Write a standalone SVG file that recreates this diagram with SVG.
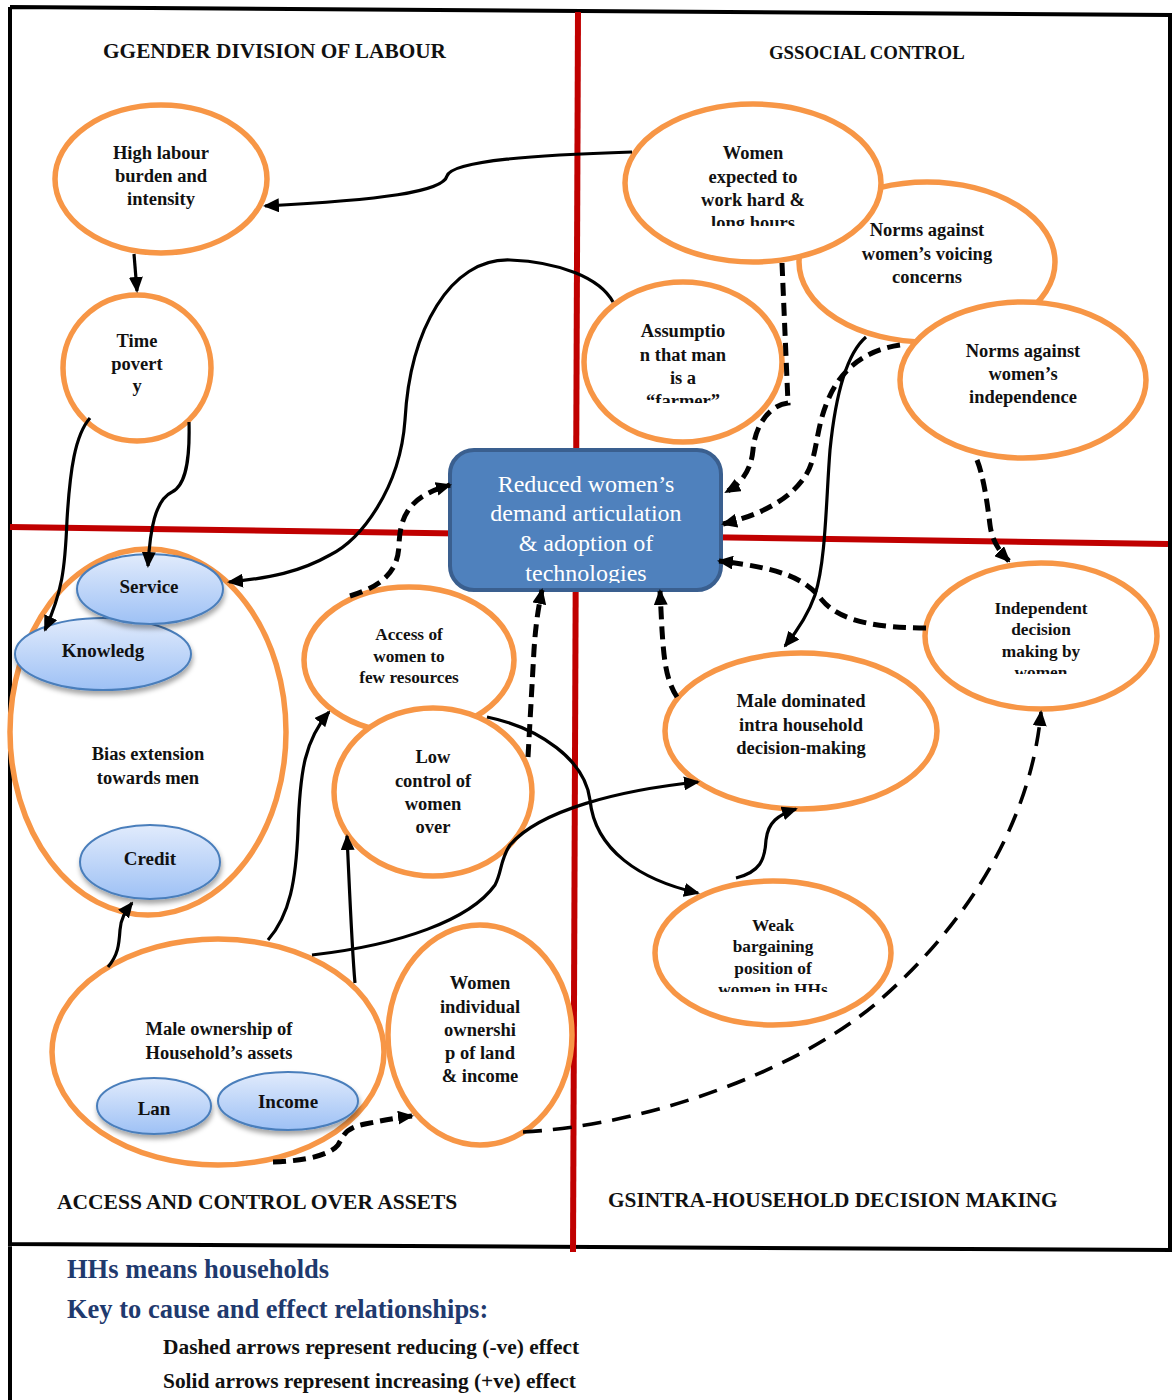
<svg xmlns="http://www.w3.org/2000/svg" width="1175" height="1400" viewBox="0 0 1175 1400">
<style>
.node{fill:#fff;stroke:#F79646;stroke-width:5.5}
.sub{fill:url(#blueG);stroke:#4A7EBB;stroke-width:2;filter:url(#shd)}
.t{font-family:"Liberation Serif","Times New Roman",serif;font-weight:bold;fill:#111;text-anchor:middle}
.s18{font-size:18.5px}
.s17{font-size:17.3px}
.s19{font-size:19px}
.title{font-family:"Liberation Serif","Times New Roman",serif;font-weight:bold;fill:#111}
.leg{font-family:"Liberation Serif","Times New Roman",serif;font-weight:bold}
.solid{fill:none;stroke:#000;stroke-width:3.2;marker-end:url(#ah)}
.dash{fill:none;stroke:#000;stroke-width:5;stroke-dasharray:13 7;marker-end:url(#ah)}
.ldash{fill:none;stroke:#000;stroke-width:3.6;stroke-dasharray:19 11;marker-end:url(#ah)}
.red{stroke:#C00000;stroke-width:6;fill:none}
.frame{stroke:#000;stroke-width:4;fill:none}
</style>
<defs>
<linearGradient id="blueG" x1="0" y1="0" x2="0" y2="1">
<stop offset="0" stop-color="#E1EBFC"/>
<stop offset="1" stop-color="#9EC1F5"/>
</linearGradient>
<filter id="shd" x="-20%" y="-20%" width="140%" height="160%">
<feDropShadow dx="1" dy="4" stdDeviation="2.5" flood-color="#000" flood-opacity="0.35"/>
</filter>
<marker id="ah" markerUnits="userSpaceOnUse" markerWidth="16" markerHeight="14" refX="14" refY="7" orient="auto">
<path d="M0,0 L16,7 L0,14 z" fill="#000"/>
</marker>
<clipPath id="cWE"><rect x="600" y="100" width="300" height="126"/></clipPath>
<clipPath id="cAS"><rect x="580" y="280" width="220" height="123"/></clipPath>
<clipPath id="cBX"><rect x="440" y="440" width="300" height="143"/></clipPath>
<clipPath id="cID"><rect x="920" y="560" width="240" height="114"/></clipPath>
<clipPath id="cWB"><rect x="650" y="880" width="250" height="112"/></clipPath>
</defs>

<g id="frame">
<path class="frame" d="M10,7 L1170,15 L1170,1250 M10,7 L10,1400 M8,1244 L1172,1250"/>
</g>
<g id="quadrant-lines">
<line class="red" x1="578" y1="12" x2="573" y2="1252"/>
<line class="red" x1="10" y1="527" x2="1168" y2="544"/>
</g>

<g id="titles">
<text class="title" x="103" y="58" font-size="21.3px">GGENDER DIVISION OF LABOUR</text>
<text class="title" x="769" y="59" font-size="18.8px">GSSOCIAL CONTROL</text>
<text class="title" x="57" y="1209" font-size="21.5px">ACCESS AND CONTROL OVER ASSETS</text>
<text class="title" x="608" y="1207" font-size="21.3px">GSINTRA-HOUSEHOLD DECISION MAKING</text>
</g>

<g id="node-high-labour">
<ellipse class="node" cx="161" cy="179" rx="106" ry="74"/>
<text class="t s18" x="161" y="159">High labour</text>
<text class="t s18" x="161" y="182">burden and</text>
<text class="t s18" x="161" y="205">intensity</text>
</g>
<g id="node-time-poverty">
<ellipse class="node" cx="137" cy="368" rx="74" ry="73"/>
<text class="t s18" x="137" y="347">Time</text>
<text class="t s18" x="137" y="370">povert</text>
<text class="t s18" x="137" y="392">y</text>
</g>
<g id="node-bias-extension">
<ellipse class="node" cx="148" cy="732" rx="138" ry="183"/>
<text class="t s18" x="148" y="760">Bias extension</text>
<text class="t s18" x="148" y="784">towards men</text>
<ellipse class="sub" cx="103" cy="654" rx="88" ry="36"/>
<text class="t s19" x="103" y="657">Knowledg</text>
<ellipse class="sub" cx="150" cy="589" rx="73" ry="35"/>
<text class="t s19" x="149" y="593">Service</text>
<ellipse class="sub" cx="150" cy="862" rx="70" ry="37"/>
<text class="t s19" x="150" y="865">Credit</text>
</g>
<g id="node-norms-voicing">
<ellipse class="node" cx="927" cy="262" rx="128" ry="80"/>
<text class="t s18" x="927" y="236">Norms against</text>
<text class="t s18" x="927" y="260">women’s voicing</text>
<text class="t s18" x="927" y="283">concerns</text>
</g>
<g id="node-women-expected">
<ellipse class="node" cx="753" cy="183" rx="128" ry="79"/>
<text class="t s18" x="753" y="159">Women</text>
<text class="t s18" x="753" y="183">expected to</text>
<text class="t s18" x="753" y="206">work hard &amp;</text>
<text class="t s18" x="753" y="229" clip-path="url(#cWE)">long hours</text>
</g>
<g id="node-assumption">
<ellipse class="node" cx="683" cy="362" rx="99" ry="80"/>
<text class="t s18" x="683" y="337">Assumptio</text>
<text class="t s18" x="683" y="361">n that man</text>
<text class="t s18" x="683" y="384">is a</text>
<text class="t s18" x="683" y="407" clip-path="url(#cAS)">“farmer”</text>
</g>
<g id="node-norms-independence">
<ellipse class="node" cx="1023" cy="380" rx="123" ry="78"/>
<text class="t s18" x="1023" y="357">Norms against</text>
<text class="t s18" x="1023" y="380">women’s</text>
<text class="t s18" x="1023" y="403">independence</text>
</g>
<g id="node-reduced-demand">
<rect x="450" y="450" width="271" height="140" rx="24" fill="#4F81BD" stroke="#3A5F8F" stroke-width="4"/>
<g font-family="'Liberation Serif','Times New Roman',serif" font-size="24px" fill="#fff" text-anchor="middle">
<text x="586" y="492">Reduced women’s</text>
<text x="586" y="521">demand articulation</text>
<text x="586" y="551">&amp; adoption of</text>
<text x="586" y="581" clip-path="url(#cBX)">technologies</text>
</g>
</g>
<g id="node-access-women">
<ellipse class="node" cx="409" cy="660" rx="105" ry="73"/>
<text class="t s17" x="409" y="640">Access of</text>
<text class="t s17" x="409" y="662">women to</text>
<text class="t s17" x="409" y="683">few resources</text>
</g>
<g id="node-low-control">
<ellipse class="node" cx="433" cy="792" rx="99" ry="84"/>
<text class="t s18" x="433" y="763">Low</text>
<text class="t s18" x="433" y="787">control of</text>
<text class="t s18" x="433" y="810">women</text>
<text class="t s18" x="433" y="833">over</text>
</g>
<g id="node-male-dominated">
<ellipse class="node" cx="801" cy="731" rx="136" ry="78"/>
<text class="t s18" x="801" y="707">Male dominated</text>
<text class="t s18" x="801" y="731">intra household</text>
<text class="t s18" x="801" y="754">decision-making</text>
</g>
<g id="node-independent-decision">
<ellipse class="node" cx="1041" cy="636" rx="116" ry="73"/>
<text class="t s17" x="1041" y="614">Independent</text>
<text class="t s17" x="1041" y="635">decision</text>
<text class="t s17" x="1041" y="657">making by</text>
<text class="t s17" x="1041" y="678" clip-path="url(#cID)">women</text>
</g>
<g id="node-weak-bargaining">
<ellipse class="node" cx="773" cy="953" rx="118" ry="72"/>
<text class="t s17" x="773" y="931">Weak</text>
<text class="t s17" x="773" y="952">bargaining</text>
<text class="t s17" x="773" y="974">position of</text>
<text class="t s17" x="773" y="995" clip-path="url(#cWB)">women in HHs</text>
</g>
<g id="node-male-ownership">
<ellipse class="node" cx="218" cy="1052" rx="166" ry="113"/>
<text class="t s18" x="219" y="1035">Male ownership of</text>
<text class="t s18" x="219" y="1059">Household’s assets</text>
<ellipse class="sub" cx="154" cy="1106" rx="57" ry="28"/>
<text class="t s19" x="154" y="1115">Lan</text>
<ellipse class="sub" cx="288" cy="1101" rx="70" ry="29"/>
<text class="t s19" x="288" y="1108">Income</text>
</g>
<g id="node-women-individual">
<ellipse class="node" cx="480" cy="1035" rx="92" ry="110"/>
<text class="t s18" x="480" y="989">Women</text>
<text class="t s18" x="480" y="1013">individual</text>
<text class="t s18" x="480" y="1036">ownershi</text>
<text class="t s18" x="480" y="1059">p of land</text>
<text class="t s18" x="480" y="1082">&amp; income</text>
</g>

<g id="connectors">
<path class="solid" d="M632,152 C540,155 452,160 447,176 C443,192 380,200 265,206"/>
<path class="solid" d="M134,254 L137,291"/>
<path class="solid" d="M90,418 C75,435 70,470 67,520 C65,570 62,592 45,630"/>
<path class="solid" d="M189,422 C190,460 186,485 172,492 C155,500 150,530 148,566"/>
<path class="solid" d="M613,302 C600,278 560,262 510,260 C450,258 410,330 405,420 C400,490 360,540 330,555 C300,572 270,578 229,582"/>
<path class="solid" d="M108,967 C118,955 119,945 120,930 C121,918 125,912 132,903"/>
<path class="solid" d="M268,940 C290,915 296,880 298,830 C300,770 305,740 329,712"/>
<path class="solid" d="M355,983 C352,950 350,900 347,836"/>
<path class="solid" d="M312,955 C400,945 470,920 495,885 C502,872 500,860 510,845 C540,810 620,790 698,782"/>
<path class="solid" d="M487,717 C540,728 585,760 590,800 C595,850 640,880 698,893"/>
<path class="solid" d="M736,878 C760,872 765,860 766,840 C768,822 778,815 796,809"/>
<path class="solid" d="M866,337 C845,355 835,400 830,450 C826,500 826,560 815,595 C808,615 798,630 785,646"/>
<path class="dash" d="M782,263 L788,403 C770,405 755,425 753,450 C751,470 742,483 726,492"/>
<path class="dash" d="M900,345 C865,350 840,370 828,400 C815,430 818,455 806,475 C790,500 760,515 723,524"/>
<path class="dash" d="M926,628 C880,628 840,622 822,600 C805,578 780,568 719,561"/>
<path class="dash" d="M977,460 C983,475 987,500 990,525 C992,540 998,550 1009,561"/>
<path class="dash" d="M677,697 C666,680 664,660 662,630 L660,591"/>
<path class="dash" d="M528,757 L534,650 C536,620 539,605 542,590"/>
<path class="dash" d="M350,596 C385,585 398,570 399,545 C400,510 415,495 450,485"/>
<path class="dash" d="M273,1162 C305,1161 330,1155 338,1145 C344,1135 345,1128 365,1124 C380,1121 395,1118 412,1116"/>
<path class="ldash" d="M523,1132 C650,1125 800,1070 880,1000 C960,930 1030,830 1041,712"/>
</g>

<g id="legend">
<text class="leg" x="67" y="1278" font-size="26.5px" fill="#1F3A6E">HHs means households</text>
<text class="leg" x="67" y="1318" font-size="26.5px" fill="#1F3A6E">Key to cause and effect relationships:</text>
<text class="leg" x="163" y="1354" font-size="21.4px" fill="#111">Dashed arrows represent reducing (-ve) effect</text>
<text class="leg" x="163" y="1388" font-size="21.4px" fill="#111">Solid arrows represent increasing (+ve) effect</text>
</g>
</svg>
